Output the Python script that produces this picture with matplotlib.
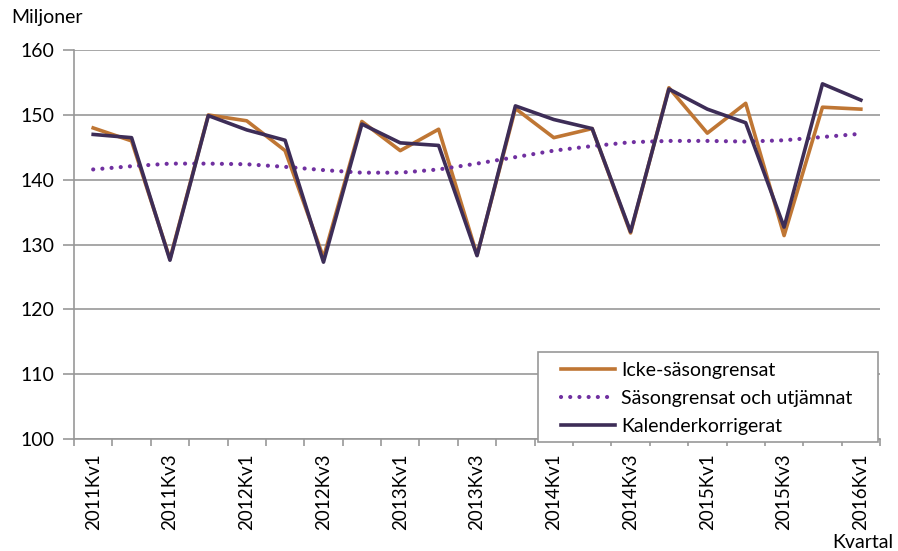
import numpy as np
import matplotlib.pyplot as plt
from matplotlib.patches import Rectangle

plt.rcParams['font.family'] = ['Lato', 'DejaVu Sans']

# Quarters 2011Kv1 .. 2016Kv1
quarters = [f"{y}Kv{q}" for y in range(2011, 2017) for q in range(1, 5)][:21]

icke_sasongrensat = [148.0, 146.0, 127.8, 150.0, 149.1, 144.5, 128.0, 149.0, 144.5, 147.8,
                     128.4, 151.0, 146.5, 147.9, 131.8, 154.2, 147.2, 151.8, 131.4, 151.2, 150.9]
sasongrensat = [141.6, 142.1, 142.5, 142.5, 142.4, 142.0, 141.5, 141.1, 141.1, 141.6,
                142.5, 143.5, 144.5, 145.2, 145.8, 146.0, 146.0, 145.9, 146.1, 146.6, 147.1]
kalenderkorrigerat = [147.0, 146.5, 127.6, 149.9, 147.7, 146.1, 127.3, 148.6, 145.7, 145.3,
                      128.3, 151.4, 149.3, 147.9, 132.0, 154.0, 150.9, 148.8, 132.7, 154.8, 152.3]

fig = plt.figure(figsize=(8.98, 5.51), dpi=100)
ax = fig.add_axes([0.0824, 0.203, 0.8976, 0.706])

x = np.arange(len(quarters))
ax.plot(x, icke_sasongrensat, color='#BF7634', lw=2.6, label='Icke-säsongrensat', zorder=3)
ax.plot(x, sasongrensat, color='#7030A0', lw=3.0, ls=(0, (0.01, 2.2)),
        dash_capstyle='round', label='Säsongrensat och utjämnat', zorder=3)
ax.plot(x, kalenderkorrigerat, color='#3D2D57', lw=2.6, label='Kalenderkorrigerat', zorder=4)

ax.set_xlim(-0.5, len(quarters) - 0.5)
ax.set_ylim(100, 160)
ax.set_yticks(range(100, 161, 10))
ax.yaxis.grid(True, color='#989898', lw=1.2)
ax.set_axisbelow(True)

ax.set_xticks(x[::2])
ax.set_xticklabels(quarters[::2], rotation=90, fontsize=13.5)
ax.set_xticks(np.arange(-0.5, len(quarters)), minor=True)
ax.tick_params(axis='x', which='major', length=0, pad=10)
ax.tick_params(axis='x', which='minor', length=5, color='#989898', width=1.2)
ax.tick_params(axis='y', length=8, color='#989898', width=1.2, labelsize=14, pad=6)

for s in ['top', 'right']:
    ax.spines[s].set_visible(False)
for s in ['left', 'bottom']:
    ax.spines[s].set_color('#989898')
    ax.spines[s].set_linewidth(1.2)

fig.text(0.013, 0.958, 'Miljoner', fontsize=14)
fig.text(0.927, 0.006, 'Kvartal', fontsize=14)

# legend frame drawn as its own box, legend entries placed inside it
box = Rectangle((0.5757, -0.0077), 0.4218, 0.2314, transform=ax.transAxes,
                facecolor='white', edgecolor='#989898', lw=1.2, zorder=5, clip_on=False)
ax.add_patch(box)
leg = ax.legend(loc='upper left', bbox_to_anchor=(0.604, 0.198), fontsize=14,
                frameon=False, handlelength=2.8, handletextpad=0.3, borderpad=0,
                labelspacing=0.55, borderaxespad=0.0)
leg.set_zorder(6)

fig.savefig('out.png', dpi=100)
